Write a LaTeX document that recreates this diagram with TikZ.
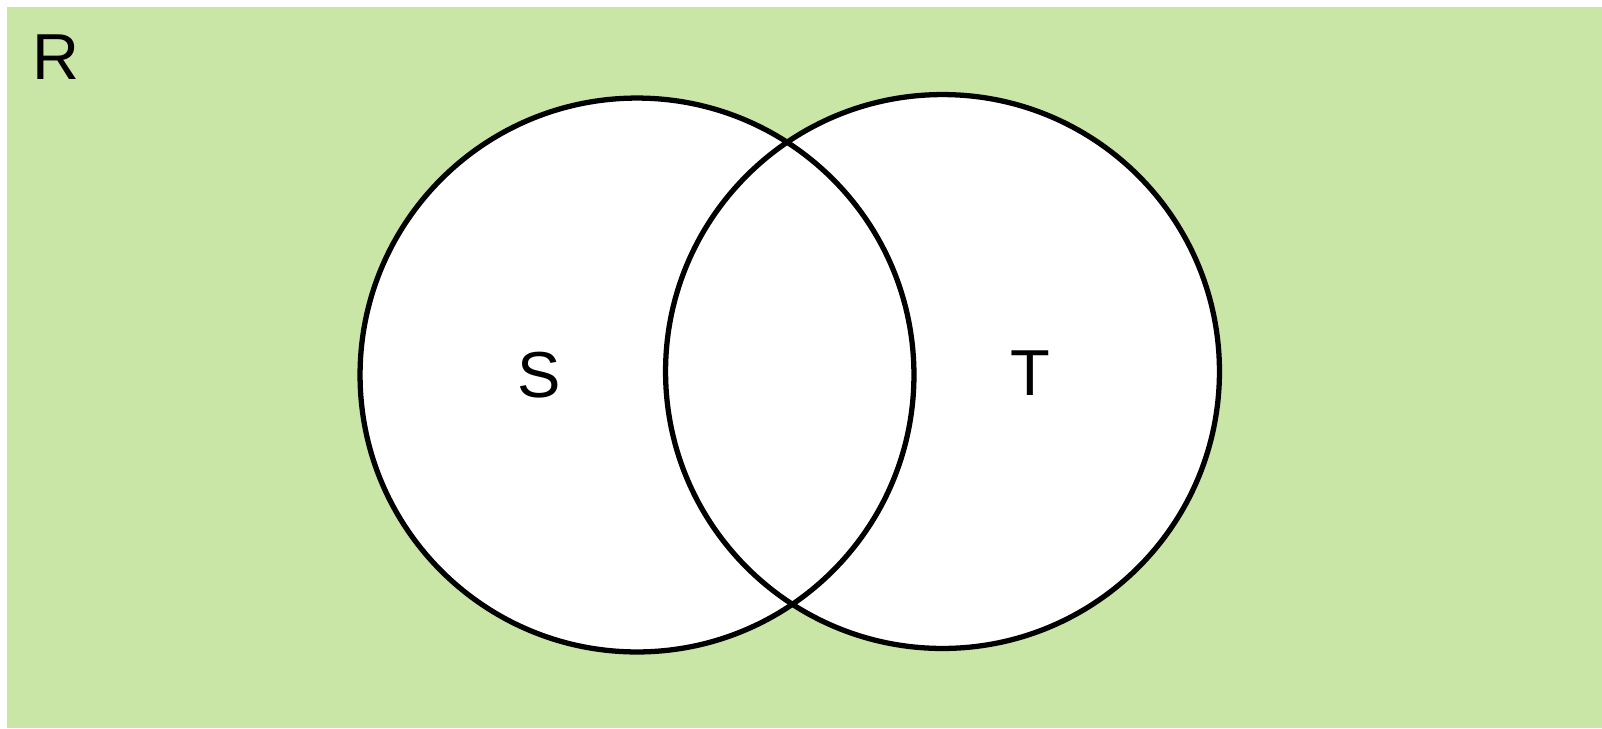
\documentclass[tikz,border=0pt]{standalone}
\usepackage{fontspec}
\setmainfont{Liberation Sans}
\definecolor{setback}{RGB}{201,230,167}

\begin{document}
\begin{tikzpicture}[x=0.02cm,y=-0.02cm,
	set/.style={shape=circle,minimum size=11.08cm,inner sep=0pt},
	setline/.style={set,draw,line width=3pt},
	label/.style={font=\fontsize{37}{42}\selectfont,inner sep=0pt}]
	\useasboundingbox (0,0) rectangle (1602,728);
	\fill[setback] (7,7) rectangle (1602,728);

	% white discs first, outlines on top so both stay visible in the overlap
	\draw (637,375) node (Sfill) [set,fill=white] {};
	\draw (942.5,371.5) node (Tfill) [set,fill=white] {};
	\draw (Sfill.center) node (S) [setline] {};
	\draw (Tfill.center) node (T) [setline] {};

	\draw (56,57) node (r) [label] {R};
	\draw (539.5,375) node (s) [label] {S};
	\draw (1030,373.5) node (t) [label] {T};
\end{tikzpicture}
\end{document}
